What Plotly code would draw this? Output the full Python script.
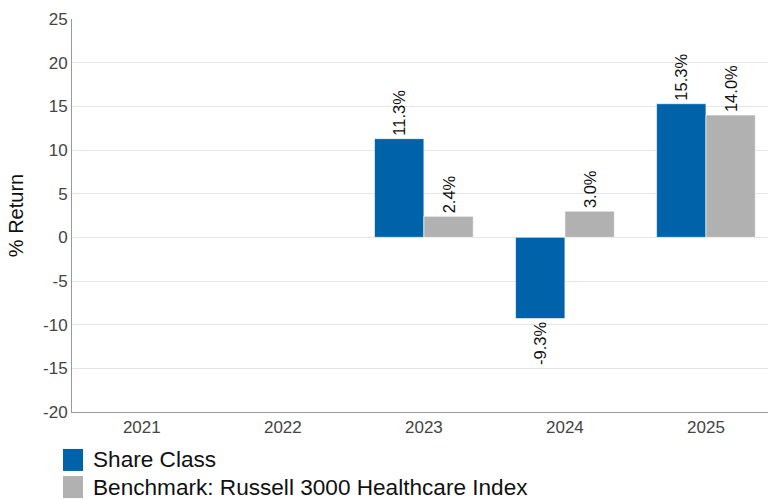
import plotly.graph_objects as go

years = ["2021", "2022", "2023", "2024", "2025"]
share_class = [None, None, 11.3, -9.3, 15.3]
benchmark = [None, None, 2.4, 3.0, 14.0]
series_names = ["Share Class", "Benchmark: Russell 3000 Healthcare Index"]
series_colors = ["#0063A9", "#B1B1B1"]
y_ticks = [25, 20, 15, 10, 5, 0, -5, -10, -15, -20]


def labels(vals):
    return [("" if v is None else f"{v:.1f}%") for v in vals]


fig = go.Figure()
for name, vals, col in zip(series_names, [share_class, benchmark], series_colors):
    fig.add_trace(go.Bar(
        x=years, y=vals, name=name,
        marker=dict(color=col, line=dict(width=0.6, color="white")),
        text=labels(vals), textposition="outside", textangle=-90,
        textfont=dict(size=16.5, color="#111111", family="Liberation Sans, Arial, sans-serif"),
        cliponaxis=False, showlegend=False, hoverinfo="skip",
    ))

# custom legend (large square swatches)
leg_y = [-0.094, -0.163]
for i, (name, col) in enumerate(zip(series_names, series_colors)):
    fig.add_shape(type="rect", xref="paper", yref="paper",
                  x0=-0.0129, x1=0.0158, y0=leg_y[i], y1=leg_y[i] - 0.056,
                  fillcolor=col, line=dict(width=0))
    fig.add_annotation(xref="paper", yref="paper", x=0.027, y=leg_y[i] - 0.028,
                       text=name, showarrow=False, xanchor="left", yanchor="middle",
                       font=dict(size=22.6, color="#111111", family="Liberation Sans, Arial, sans-serif"))

fig.update_layout(
    width=768, height=500,
    margin=dict(l=72, r=0, t=19, b=88),
    paper_bgcolor="white", plot_bgcolor="white",
    barmode="group", bargap=0.3, bargroupgap=0,
    font=dict(family="Liberation Sans, Arial, sans-serif", color="#444444"),
    showlegend=False,
)
fig.update_xaxes(
    type="category", range=[-0.495, 4.44],
    showline=True, linecolor="#999999", linewidth=1,
    showgrid=False, ticks="", tickfont=dict(size=17, color="#444444"),
)
fig.update_yaxes(
    range=[-20, 25], tickvals=y_ticks, ticktext=[str(v) for v in y_ticks],
    showline=True, linecolor="#999999", linewidth=1,
    showgrid=True, gridcolor="#E6E6E6", gridwidth=1,
    zeroline=True, zerolinecolor="#E6E6E6", zerolinewidth=1,
    ticks="", tickfont=dict(size=17, color="#444444"),
    title=dict(text="% Return", font=dict(size=20, color="#111111"), standoff=14),
    automargin=False,
)

fig.write_html("out.html", config={"displayModeBar": False},
               post_script="document.body.style.margin='0';document.body.style.overflow='hidden';")
